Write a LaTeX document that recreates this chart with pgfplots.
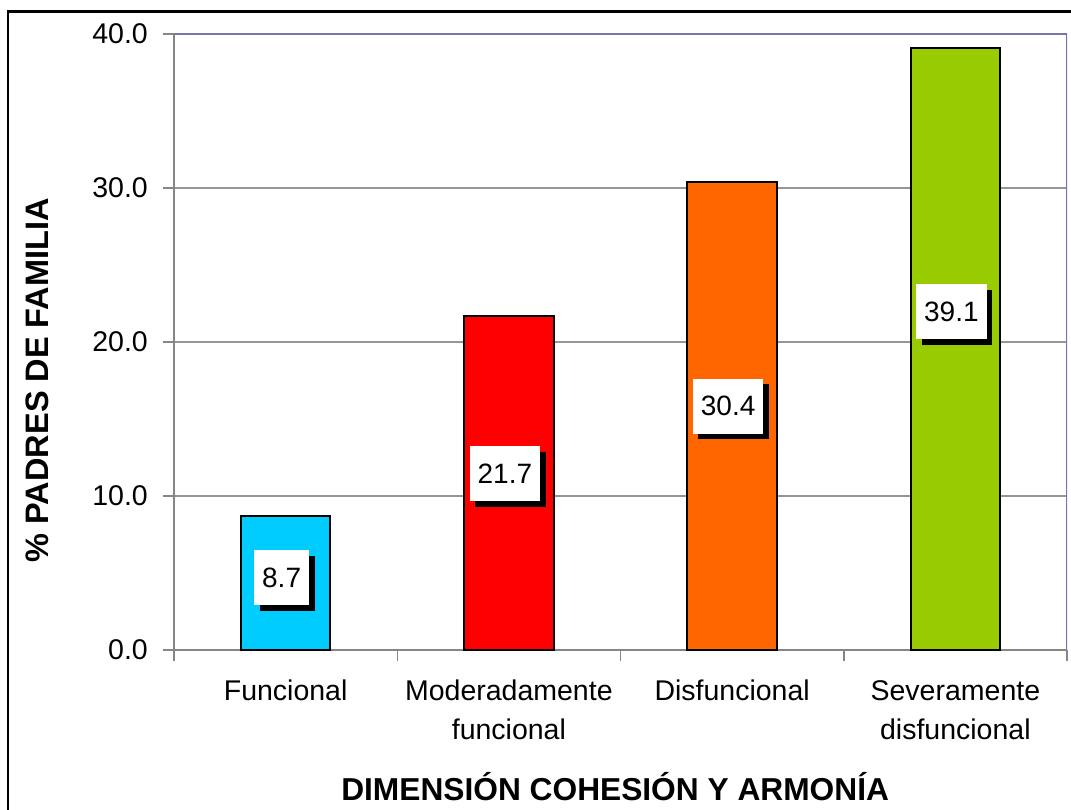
\documentclass[border=0pt]{standalone}
\usepackage{pgfplots}
\pgfplotsset{compat=1.18}
\usepackage{fontspec}
\setmainfont{Liberation Sans}
\usetikzlibrary{shadows}
\definecolor{axgray}{RGB}{134,134,134}
\definecolor{gridgray}{RGB}{150,150,150}
\definecolor{frameblue}{RGB}{118,118,170}
\definecolor{cCyan}{RGB}{0,204,255}
\definecolor{cRed}{RGB}{255,0,0}
\definecolor{cOrange}{RGB}{255,102,0}
\definecolor{cGreen}{RGB}{153,204,0}
\begin{document}
\begin{tikzpicture}
\path[use as bounding box] (0,0) rectangle (1071pt,809pt);
\draw[line width=2.5pt] (8pt,-10pt) -- (8pt,797.5pt) -- (1085pt,797.5pt);
\begin{axis}[
  at={(174pt,159pt)}, anchor=south west,
  scale only axis, width=893pt, height=616pt,
  xmin=-0.5, xmax=3.5, ymin=0, ymax=40,
  axis x line*=bottom, axis y line*=left,
  axis line style={axgray, line width=1.5pt},
  tick align=outside, major tick length=11pt,
  ytick={0,10,20,30,40},
  ymajorgrids, grid style={gridgray, line width=1.2pt},
  y tick style={axgray, line width=1.5pt},
  x tick style={axgray, line width=1.5pt},
  xtick={-0.5,0.5,1.5,2.5,3.5}, xticklabels={},
  extra x ticks={0,1,2,3},
  extra x tick labels={Funcional, Moderadamente\\funcional, Disfuncional, Severamente\\disfuncional},
  extra x tick style={major tick length=0pt, grid=none},
  xticklabel style={align=center, anchor=north, inner sep=0pt, yshift=-30pt,
    font=\fontsize{28.5}{39}\selectfont},
  /pgf/number format/assume math mode=true,
  yticklabel style={/pgf/number format/.cd, fixed, fixed zerofill, precision=1, /tikz/.cd,
    font=\fontsize{28.5}{32}\selectfont, anchor=east, inner sep=0pt, xshift=-15pt},
  ylabel={\% PADRES DE FAMILIA},
  ylabel style={font=\bfseries\fontsize{32.5}{38}\selectfont, at={(rel axis cs:-0.1534,0.438)}, anchor=center, rotate=0},
  xlabel={DIMENSIÓN COHESIÓN Y ARMONÍA},
  xlabel style={font=\bfseries\fontsize{31.7}{38}\selectfont, at={(rel axis cs:0.494,-0.221)}, anchor=center},
]
\addplot[ybar, bar width=0.4, fill=cCyan, draw=black, line width=2pt] coordinates {(0,8.7)};
\addplot[ybar, bar width=0.4, fill=cRed, draw=black, line width=2pt] coordinates {(1,21.7)};
\addplot[ybar, bar width=0.4, fill=cOrange, draw=black, line width=2pt] coordinates {(2,30.4)};
\addplot[ybar, bar width=0.4, fill=cGreen, draw=black, line width=2pt] coordinates {(3,39.1)};
\addplot[draw=none, mark=none, forget plot, nodes near coords, point meta=explicit symbolic,
  every node near coord/.append style={anchor=center, fill=white, text=black,
    font=\fontsize{28}{32}\selectfont, inner xsep=8pt, minimum height=55pt,
    general shadow={fill=black, shadow xshift=5.5pt, shadow yshift=-5.5pt}, xshift=-4pt}]
  table[meta=lab] {
x y lab
0 4.68 8.7
1 11.43 21.7
2 15.84 30.4
3 21.95 39.1
};
\draw[frameblue, line width=1.5pt] (rel axis cs:0,1) -- (rel axis cs:1,1) -- (rel axis cs:1,0);
\end{axis}
\end{tikzpicture}
\end{document}
